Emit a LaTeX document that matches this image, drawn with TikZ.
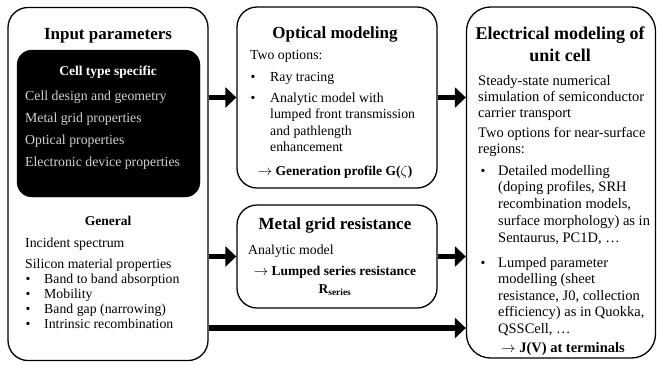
\documentclass[tikz,border=0pt]{standalone}
\usepackage{fontspec}
\setmainfont{Liberation Serif}
\usetikzlibrary{arrows.meta}
\tikzset{
  box/.style={draw=black, line width=1.3pt, rounded corners=20pt, fill=white, inner sep=0pt},
  blackbox/.style={fill=black, draw=black, rounded corners=15pt, inner sep=0pt},
  body/.style={font=\fontsize{13.8}{16}\selectfont, inner sep=0pt, anchor=base west},
  rbody/.style={font=\fontsize{14.5}{16}\selectfont, inner sep=0pt, anchor=base west},
  bodyc/.style={font=\fontsize{13.5}{16}\selectfont\bfseries, inner sep=0pt, anchor=base},
  rbodyc/.style={font=\fontsize{14.5}{16}\selectfont\bfseries, inner sep=0pt, anchor=base},
  ttl/.style={font=\fontsize{17}{20}\selectfont\bfseries, inner sep=0pt, anchor=base},
  rttl/.style={font=\fontsize{18}{20}\selectfont\bfseries, inner sep=0pt, anchor=base},
  wtxt/.style={body, text=white!82!black},
  bul/.style={font=\fontsize{13.8}{16}\selectfont, inner sep=0pt, anchor=base},
  bigarrow/.style={line width=5.5pt, -{Triangle[length=11pt,width=20pt]}},
}
\begin{document}
\begin{tikzpicture}[x=1pt,y=-1pt]
\useasboundingbox (0,0) rectangle (658,365);
% boxes
\node[box, minimum width=200pt, minimum height=353pt] (inp) at (108,184) {};
\node[blackbox, minimum width=183pt, minimum height=147pt] (cell) at (108.5,123.5) {};
\node[box, minimum width=200pt, minimum height=181pt] (opt) at (337,97.5) {};
\node[box, minimum width=200pt, minimum height=103pt] (grid) at (337,256.5) {};
\node[box, minimum width=189pt, minimum height=351pt, rounded corners=24pt] (elec) at (561,182.5) {};
% input parameters
\node[ttl] (t1) at (108,39) {Input parameters};
\node[bodyc, text=white] (cts) at (108,75) {Cell type specific};
\foreach \t [count=\i] in {{Cell design and geometry},{Metal grid properties},{Optical properties},{Electronic device properties}}
  \node[wtxt] (c\i) at (25,{100+(\i-1)*22.3}) {\t};
\node[bodyc] (gen) at (108,225) {General};
\node[body] (inc) at (25,247) {Incident spectrum};
\node[body] (sil) at (25,268) {Silicon material properties};
\foreach \t [count=\i] in {{Band to band absorption},{Mobility},{Band gap (narrowing)},{Intrinsic recombination}}
  {\node[bul] (sb\i) at (28,{283+(\i-1)*15}) {\textbullet};
   \node[body] (s\i) at (44,{283+(\i-1)*15}) {\t};}
% optical modeling
\node[ttl] (t2) at (335,38) {Optical modeling};
\node[body] (o1) at (250,59) {Two options:};
\node[bul] (ob1) at (253,81) {\textbullet};
\node[body] (o2) at (270,81) {Ray tracing};
\node[bul] (ob2) at (253,102) {\textbullet};
\foreach \t [count=\i] in {{Analytic model with},{lumped front transmission},{and pathlength},{enhancement}}
  \node[body] (oa\i) at (270,{102+(\i-1)*16.5}) {\t};
\node[bodyc] (gp) at (335,175) {$\rightarrow$ Generation profile G($\zeta$)};
% metal grid
\node[ttl] (t3) at (335,229) {Metal grid resistance};
\node[body] (g1) at (248,254) {Analytic model};
\node[bodyc] (g2) at (335,275) {$\rightarrow$ Lumped series resistance};
\node[bodyc] (g3) at (335,293) {R\textsubscript{series}};
% electrical
\node[rttl] (t4a) at (560,39) {Electrical modeling of};
\node[rttl] (t4b) at (560,61) {unit cell};
\foreach \t [count=\i] in {{Steady-state numerical},{simulation of semiconductor},{carrier transport}}
  \node[rbody] (e\i) at (478,{85+(\i-1)*16.3}) {\t};
\foreach \t [count=\i] in {{Two options for near-surface},{regions:}}
  \node[rbody] (w\i) at (478,{137+(\i-1)*16}) {\t};
\node[bul] (eb1) at (483,175) {\textbullet};
\foreach \t [count=\i] in {{Detailed modelling},{(doping profiles, SRH},{recombination models,},{surface morphology) as in},{Sentaurus, PC1D, \dots}}
  \node[rbody] (d\i) at (498,{175+(\i-1)*16.8}) {\t};
\node[bul] (eb2) at (483,267) {\textbullet};
\foreach \t [count=\i] in {{Lumped parameter},{modelling (sheet},{resistance, J0, collection},{efficiency) as in Quokka,},{QSSCell, \dots}}
  \node[rbody] (l\i) at (498,{267+(\i-1)*16.5}) {\t};
\node[rbodyc] (jv) at (563,352) {$\rightarrow$ J(V) at terminals};
% arrows
\draw[bigarrow] (inp.east |- opt.west) -- (opt.west);
\draw[bigarrow] (opt.east) -- (elec.west |- opt.east);
\draw[bigarrow] (inp.east |- grid.west) -- (grid.west);
\draw[bigarrow] (grid.east) -- (elec.west |- grid.east);
\coordinate (low) at (0,328);
\draw[bigarrow] (inp.east |- low) -- (elec.west |- low);
\end{tikzpicture}
\end{document}
